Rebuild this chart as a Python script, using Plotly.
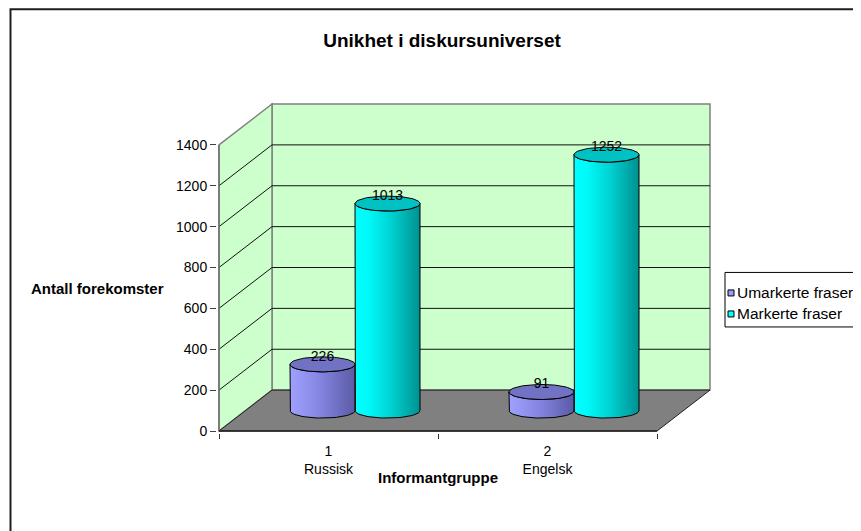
import numpy as np
import plotly.graph_objects as go

# ---------------- data ----------------
categories = ["1", "2"]
group_names = ["Russisk", "Engelsk"]
series_names = ["Umarkerte fraser", "Markerte fraser"]
umarkerte = [226, 91]
markerte = [1013, 1252]
y_ticks = [0, 200, 400, 600, 800, 1000, 1200, 1400]

title_text = "Unikhet i diskursuniverset"
x_title = "Informantgruppe"
y_title = "Antall forekomster"

# ---------------- geometry / style ----------------
W, H = 861, 531
OFF = 8                          # page body margin of the html page
FONT = "Arial, Liberation Sans, sans-serif"
FRONT_LEFT_PX, FRONT_RIGHT_PX = 219, 657
FLOOR_PX, TOP_PX = 431, 145
DEPTH_X_PX = 53
YMAX = y_ticks[-1]
DY = 200.0                      # depth of the box in value units

kx = (FRONT_RIGHT_PX - FRONT_LEFT_PX) / len(categories)
ky = (FLOOR_PX - TOP_PX) / YMAX
D = DEPTH_X_PX / kx
X0, X1 = -0.5, len(categories) - 0.5

PAD = 2
ml = FRONT_LEFT_PX - PAD - OFF
mb = H - (FLOOR_PX - OFF) - PAD
top_px = FLOOR_PX - (YMAX + DY) * ky - PAD
mt = top_px - OFF
right_px = FRONT_RIGHT_PX + DEPTH_X_PX + PAD
pw = right_px - (FRONT_LEFT_PX - PAD)
ph = (FLOOR_PX + PAD) - top_px
mr = W - ml - pw
xr0 = X0 - PAD / kx
xr = [xr0, xr0 + pw / kx]
yr0 = -PAD / ky
yr = [yr0, yr0 + ph / ky]


def px_x(px):
    return (px - OFF - ml) / pw


def px_y(py):
    return (H - mb - (py - OFF)) / ph


series_colors = [
    dict(scale=[[0, "#A0A0FF"], [0.45, "#8686E2"], [1, "#5A5AA6"]], top="#7272C4", key="#9999FF"),
    dict(scale=[[0, "#00FFFF"], [0.2, "#00FAFA"], [0.55, "#00D2D2"], [1, "#009090"]], top="#00C2C2", key="#00FFFF"),
]
series_values = [umarkerte, markerte]

R_PX = 32.5
RX = R_PX / kx
RY = 7.5 / ky
BASE = DY / 2.0

fig = go.Figure()

# ---------------- walls / floor as shapes ----------------
shapes = []
GRAY = "#808080"
shapes.append(dict(type="rect", xref="x", yref="y", x0=X0 + D, x1=X1 + D, y0=DY, y1=YMAX + DY,
                   fillcolor="#CCFFCC", line=dict(color=GRAY, width=1.5), layer="below"))
shapes.append(dict(type="path", xref="x", yref="y",
                   path=f"M {X0},0 L {X0},{YMAX} L {X0 + D},{YMAX + DY} L {X0 + D},{DY} Z",
                   fillcolor="#CCFFCC", line=dict(color=GRAY, width=1.5), layer="below"))
shapes.append(dict(type="path", xref="x", yref="y",
                   path=f"M {X0},0 L {X1},0 L {X1 + D},{DY} L {X0 + D},{DY} Z",
                   fillcolor="#808080", line=dict(color="#202020", width=1), layer="below"))
for v in y_ticks[1:-1]:
    shapes.append(dict(type="line", xref="x", yref="y", x0=X0 + D, x1=X1 + D, y0=v + DY, y1=v + DY,
                       line=dict(color="#101010", width=1), layer="below"))
    shapes.append(dict(type="line", xref="x", yref="y", x0=X0, x1=X0 + D, y0=v, y1=v + DY,
                       line=dict(color="#101010", width=1), layer="below"))
shapes.append(dict(type="line", xref="x", yref="y", x0=X0, x1=X0, y0=0, y1=YMAX,
                   line=dict(color="#707070", width=1.5), layer="below"))
shapes.append(dict(type="line", xref="x", yref="y", x0=X0, x1=X1, y0=0, y1=0,
                   line=dict(color="#202020", width=1.5), layer="below"))

# ---------------- cylinders ----------------
t_low = np.linspace(np.pi, 2 * np.pi, 40)
t_full = np.linspace(0, 2 * np.pi, 80)
nser = len(series_values)
for si, (vals, col) in enumerate(zip(series_values, series_colors)):
    for ci, v in enumerate(vals):
        xc = ci + D / 2 + (si - (nser - 1) / 2) * 2 * RX
        top = BASE + v
        bx = np.concatenate([[xc - RX], xc + RX * np.cos(t_low), [xc + RX], (xc + RX * np.cos(t_low))[::-1]])
        by = np.concatenate([[top], BASE + RY * np.sin(t_low), [top], (top + RY * np.sin(t_low))[::-1]])
        fig.add_trace(go.Scatter(x=bx, y=by, mode="lines", fill="toself",
                                 fillgradient=dict(type="horizontal", colorscale=col["scale"]),
                                 line=dict(color="#000000", width=1), hoverinfo="skip",
                                 showlegend=False))
        fig.add_trace(go.Scatter(x=xc + RX * np.cos(t_full), y=top + RY * np.sin(t_full), mode="lines",
                                 fill="toself", fillcolor=col["top"],
                                 line=dict(color="#000000", width=1), hoverinfo="skip",
                                 showlegend=False))
        fig.add_trace(go.Scatter(x=[xc], y=[top], mode="text", text=[str(v)],
                                 textposition="top center", textfont=dict(family=FONT, size=14, color="#000"),
                                 cliponaxis=False, showlegend=False, hoverinfo="skip"))

# ---------------- outer border + manual legend ----------------
shapes.append(dict(type="rect", xref="paper", yref="paper", x0=px_x(10.5), x1=px_x(900),
                   y0=px_y(600), y1=px_y(9.5), line=dict(color="#1E1E1E", width=2), layer="below"))
shapes.append(dict(type="rect", xref="paper", yref="paper", x0=px_x(725), x1=px_x(900),
                   y0=px_y(327), y1=px_y(272.5), line=dict(color="#000000", width=1),
                   fillcolor="white", layer="above"))
annotations = []
for i, (name, col) in enumerate(zip(series_names, series_colors)):
    cy = 293 + i * 21
    shapes.append(dict(type="rect", xref="paper", yref="paper", x0=px_x(728), x1=px_x(734),
                       y0=px_y(cy + 3), y1=px_y(cy - 3), fillcolor=col["key"],
                       line=dict(color="#000000", width=1), layer="above"))
    annotations.append(dict(xref="paper", yref="paper", x=px_x(735), y=px_y(cy), text=name,
                            showarrow=False, xanchor="left", yanchor="middle",
                            font=dict(family=FONT, size=15.5, color="#000")))

annotations.append(dict(xref="paper", yref="paper", x=px_x(97), y=px_y(289), text=f"<b>{y_title}</b>",
                        showarrow=False, xanchor="center", yanchor="middle",
                        font=dict(family=FONT, size=15, color="#000")))
annotations.append(dict(xref="paper", yref="paper", x=px_x(438), y=px_y(477), text=f"<b>{x_title}</b>",
                        showarrow=False, xanchor="center", yanchor="middle",
                        font=dict(family=FONT, size=15, color="#000")))

fig.update_layout(
    width=W, height=H, autosize=False,
    margin=dict(l=ml, r=mr, t=mt, b=mb, pad=0),
    paper_bgcolor="white", plot_bgcolor="rgba(0,0,0,0)",
    showlegend=False,
    title=dict(text=f"<b>{title_text}</b>", xref="container", yref="container",
               x=(442 - OFF) / W, y=1 - (40 - OFF) / H, xanchor="center", yanchor="middle",
               font=dict(family=FONT, size=19, color="#000")),
    xaxis=dict(range=xr, tickmode="array", tickvals=list(range(len(categories))),
               ticktext=[f"{c}<br>{g}" for c, g in zip(categories, group_names)],
               ticks="", showgrid=False, zeroline=False, showline=False, fixedrange=True,
               tickfont=dict(family=FONT, size=14, color="#000"), ticklabelstandoff=8,
               minor=dict(tickmode="array", tickvals=[X0 + i for i in range(len(categories) + 1)],
                          ticks="outside", ticklen=5, tickcolor="#303030", tickwidth=1, showgrid=False)),
    yaxis=dict(range=yr, tickmode="array", tickvals=y_ticks, ticks="outside", ticklen=6,
               tickcolor="#404040", showgrid=False, zeroline=False, showline=False, fixedrange=True,
               tickfont=dict(family=FONT, size=14, color="#000")),
    shapes=shapes, annotations=annotations,
)

fig.write_html("out.html")
